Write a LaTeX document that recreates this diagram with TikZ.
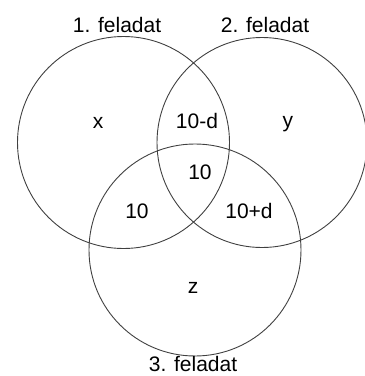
\documentclass[tikz,border=0pt]{standalone}
\usepackage{fontspec}
\setmainfont{Liberation Sans}
\usepackage{tikz}

\tikzset{
    ring/.style={draw=black!75, line width=0.9pt},
    lbl/.style={font=\fontsize{21}{24}\selectfont, inner sep=0pt}
}

\begin{document}
\begin{tikzpicture}[x=1pt,y=-1pt]
    \useasboundingbox (0,0) rectangle (365,376);

    \coordinate (A) at (123.5,142.5);
    \coordinate (B) at (262,142.5);
    \coordinate (C) at (195,250);

    \draw[ring] (A) circle (106);
    \draw[ring] (B) circle (105);
    \draw[ring] (C) circle (106);

    \node[lbl] (tA) at (117,25)  {1. feladat};
    \node[lbl] (tB) at (265,25)  {2. feladat};
    \node[lbl] (tC) at (193,364) {3. feladat};

    \node[lbl] (x)   at (98,123)  {x};
    \node[lbl] (y)   at (288,124) {y};
    \node[lbl] (z)   at (193,288) {z};
    \node[lbl] (ab)  at (197,121) {10-d};
    \node[lbl] (abc) at (200,172) {10};
    \node[lbl] (ac)  at (137,211) {10};
    \node[lbl] (bc)  at (249,211) {10+d};
\end{tikzpicture}
\end{document}
